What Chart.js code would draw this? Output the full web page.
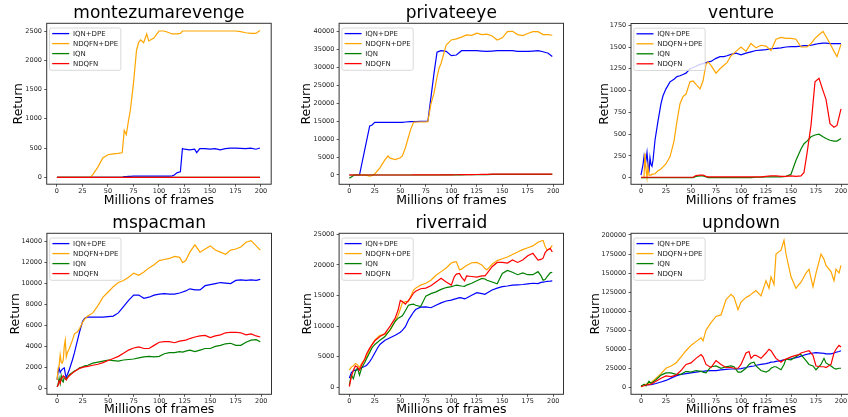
<!DOCTYPE html>
<html>
<head>
<meta charset="utf-8">
<script src="https://cdn.jsdelivr.net/npm/chart.js@4.4.1/dist/chart.umd.min.js"></script>
<style>
  html, body { margin: 0; padding: 0; background: #fff; width: 848px; height: 417px; overflow: hidden; }
  canvas { position: absolute; }
</style>
</head>
<body>
<canvas id="montezuma"></canvas>
<canvas id="privateeye"></canvas>
<canvas id="venture"></canvas>
<canvas id="mspacman"></canvas>
<canvas id="riverraid"></canvas>
<canvas id="upndown"></canvas>
<script>
// series shared by every panel
const seriesNames = ['IQN+DPE', 'NDQFN+DPE', 'IQN', 'NDQFN'];
const seriesColors = ['#0000ff', '#ffa500', '#008000', '#ff0000'];
const frameTicks = [0, 25, 50, 75, 100, 125, 150, 175, 200];

// montezumarevenge
const mzFrames = [0,5,10,15,20,25,30,33,35,40,45,50,55,60,64,66,68,70,72,75,78,80,82,85,88,90,95,100,105,110,113,115,118,121,123,125,130,135,137,140,145,150,155,160,165,170,175,180,185,190,195,199];
const mzIqnDpe = [0,0,0,0,0,0,0,0,0,0,0,0,0,0, 0,10,10,15,15, 20,20,20,20,20, 20,20,20,20,20, 20,25,40,80,95, 490,480,470,480,420, 490,490,480,490,470, 490,500,500,495,490, 500,480,500];
const mzNdqfnDpe = [0,0,0,0,0,0,0, 5,40, 170,330,385,400,410, 420,800,730,950,1150, 1600,2170,2300,2350,2300, 2450,2330,2380,2500,2500, 2470,2450,2450,2450,2460, 2500,2500,2500,2500,2500, 2500,2500,2500,2500,2500, 2500,2500,2500,2490,2470, 2460,2460,2510];
const mzIqn = [0,0,0,0,0,0,0,0,0,0,0,0,0,0,0,0,0,0,0,0,0,0,0,0,0,0,0,0,0,0,0,0,0,0,0,0,0,0,0,0,0,0,0,0,0,0,0,0,0,0,0,0];
const mzNdqfn = [0,0,0,0,0,0,0,0,0,0,0,0,0,0,0,0,0,0,0,0,0,0,0,0,0,0,0,0,0,0,0,0,0,0,0,0,0,0,0,0,0,0,0,0,0,0,0,0,0,0,0,0];
const mzTicks = [0, 500, 1000, 1500, 2000, 2500];

// privateeye
const peFrames = [0,5,10,15,20,22,25,30,35,38,40,45,50,52,55,60,63,65,70,75,77,80,83,86,88,90,95,100,105,110,115,120,125,130,135,140,145,150,155,160,165,170,175,180,185,190,195,199];
const peIqnDpe = [0,0,0,6900,13700, 13900,14700,14700,14700,14700, 14700,14700,14700,14700,14800, 14900,14900,14900,15000,15000, 15000,21600,28300,34300,34500, 34700,34500,33300,33500,34700, 34700,34700,34700,34600,34500, 34600,34700,34700,34700,34700, 34500,34500,34500,34600,34700, 34400,34000,33100];
const peNdqfnDpe = [0,0,0,0,-300, -200,300,2000,4300,5300, 4700,4300,4800,5300,7600, 12600,14700,14800,14800,14800, 14900,19800,22800,27300,29800, 31200,36300,37700,38000,38500, 39100,39000,39600,39200,39300, 38800,37700,38300,40000,40100, 39200,38900,39500,40000,40000, 39200,39200,39000];
const peIqn = [-900,0,0,0,0, 0,0,0,0,0, 0,0,0,0,0, 0,0,0,0,0, 0,0,0,0,0, 20,30,40,50,60, 80,100,100,120,130, 150,150,160,170,180, 180,190,190,200,200, 200,200,200];
const peNdqfn = [0,0,0,0,0, 0,0,0,0,0, 0,0,0,0,0, 0,10,10,20,20, 20,30,30,40,40, 40,50,60,70,80, 100,120,140,160,200, 230,260,260,270,270, 270,270,270,260,260, 260,260,260];
const peTicks = [0, 5000, 10000, 15000, 20000, 25000, 30000, 35000, 40000];

// venture
const veFrames = [0,2,3,4,5,6,7,8,9,10,11,12,14,17,20,22,25,29,33,36,39,42,45,49,52,55,59,62,65,67,70,75,79,83,86,90,95,100,105,110,115,120,125,130,135,140,145,150,155,160,163,166,170,174,178,182,185,189,193,196,200];
const veIqnDpe = [30,150,240,130,200, 290,150,60,230,150, 130,200,430,650,850, 940,1020,1100,1130,1160, 1170,1185,1200,1250,1265, 1280,1300,1310,1320,1330, 1335,1370,1390,1390,1400, 1415,1430,1410,1430,1445, 1460,1465,1470,1480,1485, 1490,1500,1505,1505,1510, 1515,1515,1520,1530,1540, 1545,1545,1540,1540,1540, 1540];
const veNdqfnDpe = [0,0,0,280,100, 0,130,30,30,30, 40,40,45,80,100, 125,160,240,420,650, 850,930,960,1100,1110, 1070,1020,1110,1300,1330, 1290,1200,1250,1290,1320, 1400,1450,1500,1450,1540, 1490,1520,1510,1460,1590, 1610,1600,1600,1590,1500, 1500,1500,1540,1600,1640, 1680,1620,1540,1450,1390, 1530];
const veIqn = [0,0,0,0,0, 0,0,0,0,0, 0,0,0,0,0, 0,0,0,0,0, 0,0,0,0,0, 15,20,20,10,0, 0,0,0,0,0, 0,0,0,0,0, 5,5,10,10,10, 10,15,40,200,330, 390,420,470,490,500, 470,450,430,420,420, 450];
const veNdqfn = [5,5,5,5,5, 5,5,5,5,5, 5,5,5,5,5, 5,5,5,5,5, 5,5,5,5,5, 25,30,30,15,10, 10,10,10,10,10, 10,10,10,10,10, 10,10,15,20,20, 15,15,20,15,20, 60,280,600,1100,1140, 1000,900,620,580,600, 790];
const veTicks = [0, 250, 500, 750, 1000, 1250, 1500, 1750];

// mspacman
const msFrames = [0,1,2,3,4,5,6,7,8,9,10,12,15,17,20,22,25,27,30,35,40,45,50,55,60,65,70,75,80,85,90,95,100,105,110,115,120,123,126,130,135,140,145,150,155,160,165,170,175,180,185,190,195,199];
const msIqnDpe = [800,1600,1900,1500,1700, 1800,1900,1950,1400,1000, 1300,1800,2700,3400,4600, 5400,6400,6700,6800,6800, 6800,6800,6850,6900,7200, 7800,8400,8900,8900,8600, 8700,8900,9000,9050,9000, 9000,9100,9200,9300,9500, 9400,9400,9800,9900,10000, 10100,10050,10000,10300,10350, 10300,10350,10300,10400];
const msNdqfnDpe = [800,1900,2200,3200,2500, 2400,2700,4000,4600,3000, 3400,3800,4600,5200,5400, 5700,6300,6600,6900,7200, 7900,8700,9200,9700,10100, 10300,10600,11000,10800,11100, 11500,11800,12200,12300,12400, 12600,12500,12000,12200,13000, 13700,13000,13300,13600,13200, 13000,12800,13200,13300,13500, 13950,14100,13600,13200];
const msIqn = [150,400,950,450,1200, 700,600,1100,1000,850, 1000,1300,1500,1650,1800, 1950,2050,2150,2200,2400, 2500,2600,2700,2650,2600, 2700,2750,2800,2900,3000, 3050,3000,3050,3300,3400, 3400,3500,3450,3550,3650, 3500,3650,3800,3800,4000, 4100,4250,4300,4100,4100, 4400,4600,4650,4450];
const msNdqfn = [150,300,700,500,900, 1000,1200,1100,900,800, 1000,1200,1450,1600,1800, 1900,2000,2050,2100,2200, 2300,2450,2650,2850,3050, 3350,3650,3850,3950,3800, 3800,4100,4400,4450,4450, 4350,4500,4550,4600,4750, 4900,5000,5050,4850,5000, 5100,5300,5350,5350,5300, 5100,5200,5000,4900];
const msTicks = [0, 2000, 4000, 6000, 8000, 10000, 12000, 14000];

// riverraid
const rrFrames = [0,2,4,6,8,10,12,15,17,20,22,25,28,30,35,40,45,48,50,52,55,58,60,63,65,70,75,80,85,90,95,100,103,105,108,110,113,115,120,125,130,133,135,140,145,150,155,160,165,170,175,180,185,188,190,192,194,197,199];
const rrIqnDpe = [1500,2400,2700,2800,2900, 3000,3200,3400,3600,4200, 4700,5600,6500,7000,7700, 8100,8500,8800,9000,9300, 9900,11000,11500,12300,12700, 13100,13150,13000,13400,13800, 14100,14250,14400,14500,14650, 14600,14450,14600,15050,15450, 15300,15200,15400,15900,16200, 16450,16550,16700,16750,16800, 16900,17000,16950,17150,17200, 17250,17300,17350,17400];
const rrNdqfnDpe = [2800,3300,3500,3900,3700, 3200,3900,4500,5000,6200, 6900,7700,8200,8500,8600, 9300,10800,11800,12800,13800, 14000,14000,14800,15900,16200, 16700,17000,17500,18300,18900, 19500,20300,20500,20500,19200, 19300,19700,19900,20350,20400, 20000,19400,19200,20100,20700, 21000,21300,21700,22100,22500, 22800,23100,23700,23900,24000, 23000,22400,22700,23200];
const rrIqn = [300,2000,1400,2600,3200, 2000,3100,4000,4700,5700, 6400,7000,7400,7700,8300, 9400,10800,11300,11500,11700, 12500,13400,13500,13600,13400, 13200,14900,15300,15600,16000, 16300,16450,16600,16700,16600, 16550,16500,16700,17000,17400, 17800,17700,17500,17200,16900, 18600,19100,18800,18400,18700, 18400,18400,18900,18200,17500, 17600,18100,18700,18800];
const rrNdqfn = [100,1700,2800,3500,3300, 2800,3600,4600,5500,6400, 6900,7600,8000,8300,8800, 10000,11300,12700,14200,14000, 13600,14200,14600,15400,15700, 16100,16200,16600,17200,17800, 17200,16700,18100,18500,18600, 18000,17400,18200,18100,18000, 18200,18200,18600,19700,20400, 20400,20300,20800,20400,20800, 21500,21900,20800,20900,21100, 22000,22400,22700,22100];
const rrTicks = [0, 5000, 10000, 15000, 20000, 25000];

// upndown
const udFrames = [0,3,5,8,10,15,20,25,30,35,40,45,50,55,60,62,65,70,75,80,85,90,93,97,100,105,108,110,113,115,120,125,128,130,133,135,140,143,145,150,155,158,160,165,168,172,175,180,183,185,190,193,195,198,200];
const udIqnDpe = [2000,2500,3000,3500,3500, 5000,7000,9000,12000,15000, 17000,18000,19000,20000,21000, 21000,21500,22000,22000,23000, 23500,24000,24000,24000,24500, 26000,27000,27500,28000,29000, 30000,31000,32000,33000,33500, 34000,35000,36000,36500,37500, 39000,40000,41000,43000,44000, 45000,45500,45000,44500,44000, 44000,45000,46000,47000,48000];
const udNdqfnDpe = [500,3000,4000,5500,6000, 12000,18000,25000,28000,32000, 40000,48000,55000,60000,65000, 61000,75000,85000,93000,95000, 115000,122000,118000,102000,112000, 118000,120000,122000,125000,127000, 120000,140000,130000,145000,135000, 175000,180000,193000,175000,145000, 130000,135000,138000,150000,155000, 132000,150000,175000,168000,160000, 152000,140000,155000,150000,160000];
const udIqn = [1000,4000,2000,8000,5000, 10000,16000,19000,19000,17000, 17000,21000,20000,22000,21000, 20000,19000,27000,28000,25000, 27000,28000,27000,20000,20000, 25000,30000,32000,33000,28000, 22000,20000,22000,25000,27000, 27000,23000,30000,37000,36000, 40000,43000,43000,35000,30000, 28000,23000,30000,38000,32000, 28000,25000,24000,25000,25000];
const udNdqfn = [1000,2000,3000,3500,4000, 8000,12000,15000,14000,16000, 22000,30000,32000,38000,43000, 40000,30000,26000,35000,30000, 26000,26000,25000,25000,30000, 45000,47000,38000,42000,42000, 38000,45000,50000,48000,42000, 38000,33000,36000,37000,40000, 42000,43000,45000,47000,48000, 42000,28000,27000,27000,26000, 30000,45000,50000,55000,53000];
const udTicks = [0, 25000, 50000, 75000, 100000, 125000, 150000, 175000, 200000];

const FONT = "'DejaVu Sans', sans-serif";
const BASE_MID = 0.346; // DejaVu Sans: distance from alphabetic baseline to em middle

// spines on all four sides, drawn over the lines like matplotlib does
const axesFrame = {
  id: 'axesFrame',
  afterDatasetsDraw(chart) {
    const { ctx, chartArea: a } = chart;
    ctx.save();
    ctx.strokeStyle = '#333';
    ctx.lineWidth = 1;
    ctx.strokeRect(a.left, a.top, a.right - a.left, a.bottom - a.top);
    ctx.restore();
  }
};

// matplotlib style legend in the upper left corner of the axes
const insetLegend = {
  id: 'insetLegend',
  afterDatasetsDraw(chart) {
    const { ctx, chartArea: a } = chart;
    const sets = chart.data.datasets;
    ctx.save();
    ctx.font = '7px ' + FONT;
    const textW = Math.max(...sets.map(d => ctx.measureText(d.label).width));
    const x = a.left + 2.8, y = a.top + 4.7;
    const w = 23.4 + textW + 2.6, h = 42.3;
    ctx.beginPath();
    ctx.roundRect(x, y, w, h, 2);
    ctx.fillStyle = 'rgba(255,255,255,0.8)';
    ctx.fill();
    ctx.strokeStyle = '#cfcfcf';
    ctx.lineWidth = 0.8;
    ctx.stroke();
    ctx.textBaseline = 'middle';
    sets.forEach((d, i) => {
      const cy = y + 5.6 + i * 10;
      ctx.strokeStyle = d.borderColor;
      ctx.lineWidth = 1.3;
      ctx.beginPath();
      ctx.moveTo(x + 2.7, cy);
      ctx.lineTo(x + 19.7, cy);
      ctx.stroke();
      ctx.fillStyle = '#222';
      ctx.fillText(d.label, x + 23.4, cy + 0.3);
    });
    ctx.restore();
  }
};

const panels = [
  { id: 'montezuma', title: 'montezumarevenge', frames: mzFrames, series: [mzIqnDpe, mzNdqfnDpe, mzIqn, mzNdqfn], yTicks: mzTicks,
    yMin: -118, yMax: 2632, box: [46.7, 23.3, 271.2, 184.2], canvasTop: 0, canvasBottom: 210, titleBase: 19.2, xBase: 205.5, retX: 18.7 },
  { id: 'privateeye', title: 'privateeye', frames: peFrames, series: [peIqnDpe, peNdqfnDpe, peIqn, peNdqfn], yTicks: peTicks,
    yMin: -2596, yMax: 42344, box: [339.1, 23.3, 563.5, 184.3], canvasTop: 0, canvasBottom: 210, titleBase: 19.2, xBase: 205.5, retX: 307 },
  { id: 'venture', title: 'venture', frames: veFrames, series: [veIqnDpe, veNdqfnDpe, veIqn, veNdqfn], yTicks: veTicks,
    yMin: -76, yMax: 1770, box: [631, 23.5, 851, 184.3], canvasTop: 0, canvasBottom: 210, titleBase: 19.2, xBase: 205.5, retX: 604.3 },
  { id: 'mspacman', title: 'mspacman', frames: msFrames, series: [msIqnDpe, msNdqfnDpe, msIqn, msNdqfn], yTicks: msTicks,
    yMin: -573, yMax: 14802, box: [46.9, 233.3, 271.5, 394.3], canvasTop: 210, canvasBottom: 420, titleBase: 229.8, xBase: 414.5, retX: 15.3 },
  { id: 'riverraid', title: 'riverraid', frames: rrFrames, series: [rrIqnDpe, rrNdqfnDpe, rrIqn, rrNdqfn], yTicks: rrTicks,
    yMin: -1144, yMax: 25163, box: [339.1, 233.3, 563.5, 394.3], canvasTop: 210, canvasBottom: 420, titleBase: 229.8, xBase: 414.5, retX: 307.3 },
  { id: 'upndown', title: 'upndown', frames: udFrames, series: [udIqnDpe, udNdqfnDpe, udIqn, udNdqfn], yTicks: udTicks,
    yMin: -9190, yMax: 202200, box: [631, 233.3, 851, 394.3], canvasTop: 210, canvasBottom: 420, titleBase: 229.8, xBase: 414.5, retX: 595.7 }
];

function drawPanel(p) {
  const [left, top, right, bottom] = p.box;
  const canvas = document.getElementById(p.id);
  const cl = Math.floor(left - 46);
  const cw = Math.ceil(right - cl + 4);
  const ch = p.canvasBottom - p.canvasTop;
  canvas.width = cw;
  canvas.height = ch;
  canvas.style.left = cl + 'px';
  canvas.style.top = p.canvasTop + 'px';
  canvas.style.width = cw + 'px';
  canvas.style.height = ch + 'px';

  const yAxisW = left - cl;
  const xAxisH = p.canvasBottom - bottom;
  const headH = top - p.canvasTop;
  const titleSize = 17;
  const titlePadTop = (p.titleBase - BASE_MID * titleSize) - p.canvasTop - titleSize / 2;
  const labelSize = 12.5, labelLine = labelSize * 1.2;
  const xTitlePad = p.canvasBottom - (p.xBase - BASE_MID * labelSize) - labelLine / 2;
  const yTitlePad = p.retX - cl - labelLine / 2;

  const datasets = p.series.map((vals, i) => ({
    label: seriesNames[i],
    data: p.frames.map((f, j) => ({ x: f, y: vals[j] })),
    borderColor: seriesColors[i],
    borderWidth: 1.2,
    pointRadius: 0,
    tension: 0,
    fill: false,
    order: seriesNames.length - 1 - i
  }));

  const tickStyle = { font: { family: FONT, size: 6.5 }, color: '#222', autoSkip: false, maxRotation: 0, minRotation: 0, callback: v => String(v) };
  const gridStyle = { drawOnChartArea: false, drawTicks: true, tickLength: 2.5, color: '#333', lineWidth: 0.8 };

  new Chart(canvas, {
    type: 'line',
    data: { datasets },
    options: {
      responsive: false,
      animation: false,
      events: [],
      layout: { padding: { left: 0, top: 0, bottom: 0, right: cl + cw - right } },
      plugins: {
        legend: { display: false },
        tooltip: { enabled: false },
        title: {
          display: true,
          text: p.title,
          fullSize: false,
          color: '#000',
          font: { family: FONT, size: titleSize, weight: 'normal', lineHeight: 1 },
          padding: { top: titlePadTop, bottom: headH - titleSize - titlePadTop }
        }
      },
      scales: {
        x: {
          type: 'linear',
          min: -10,
          max: 210,
          afterBuildTicks: s => { s.ticks = frameTicks.map(v => ({ value: v })); },
          afterFit: s => { s.height = xAxisH; },
          ticks: { ...tickStyle, padding: 0.5 },
          grid: gridStyle,
          border: { display: false },
          title: { display: true, text: 'Millions of frames', color: '#000', font: { family: FONT, size: labelSize, lineHeight: 1.2 }, padding: { top: 0, bottom: xTitlePad } }
        },
        y: {
          type: 'linear',
          min: p.yMin,
          max: p.yMax,
          afterBuildTicks: s => { s.ticks = p.yTicks.map(v => ({ value: v })); },
          afterFit: s => { s.width = yAxisW; },
          ticks: { ...tickStyle, padding: 2.3 },
          grid: gridStyle,
          border: { display: false },
          title: { display: true, text: 'Return', color: '#000', font: { family: FONT, size: labelSize, lineHeight: 1.2 }, padding: { top: yTitlePad, bottom: 0 } }
        }
      }
    },
    plugins: [axesFrame, insetLegend]
  });
}

panels.forEach(drawPanel);
</script>
</body>
</html>
